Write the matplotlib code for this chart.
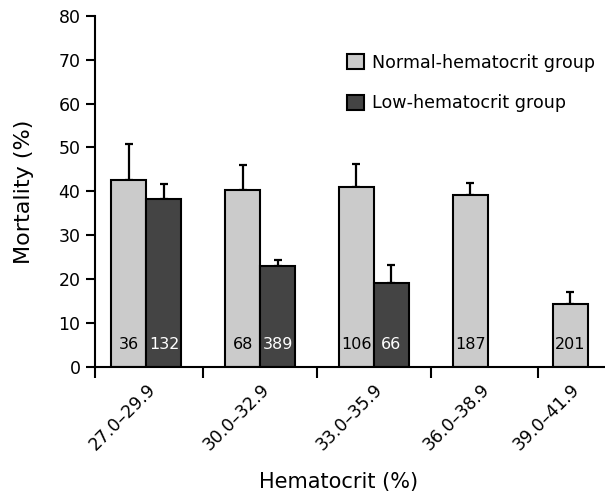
import numpy as np
import matplotlib
matplotlib.use("Agg")
import matplotlib.pyplot as plt
from matplotlib.patches import Patch

plt.rcParams["font.family"] = ["DejaVu Sans"]

# --- data ---
groups = ["27.0\u201329.9", "30.0\u201332.9", "33.0\u201335.9", "36.0\u201338.9", "39.0\u201341.9"]
normal_mort = [42.7, 40.4, 41.1, 39.1, 14.3]
normal_err = [8.1, 5.7, 5.1, 2.7, 2.8]
normal_n = [36, 68, 106, 187, 201]
low_mort = [38.3, 23.0, 19.0]
low_err = [3.4, 1.4, 4.2]
low_n = [132, 389, 66]

LIGHT = "#cbcbcb"
DARK = "#444444"
W = 1.0

fig = plt.figure(figsize=(6.05, 4.97), dpi=100)
ax = fig.add_axes([0.157, 0.262, 0.843, 0.706])

# group layout (last group sits a bit closer, as in the original)
left = np.array([0, 1, 2, 3, 3.88]) * 3.25 + 0.47
xn = left + W / 2
xl = left[:len(low_mort)] + W * 1.5

bar_kw = dict(width=W, edgecolor="black", linewidth=1.5, zorder=2)
ax.bar(xn, normal_mort, color=LIGHT, **bar_kw)
ax.bar(xl, low_mort, color=DARK, **bar_kw)

err_kw = dict(fmt="none", ecolor="black", elinewidth=1.6, capsize=2.6, capthick=1.6, zorder=1)
ax.errorbar(xn, normal_mort, yerr=[np.zeros(len(normal_err)), normal_err], **err_kw)
ax.errorbar(xl, low_mort, yerr=[np.zeros(len(low_err)), low_err], **err_kw)

for x, n in zip(xn, normal_n):
    ax.text(x, 5.0, str(n), ha="center", va="center", fontsize=11.5, color="black", zorder=3)
for x, n in zip(xl, low_n):
    ax.text(x, 5.0, str(n), ha="center", va="center", fontsize=11.5, color="white", zorder=3)

# axes
ax.set_ylim(0, 80)
ax.set_xlim(0, 14.57)
ax.set_yticks(range(0, 81, 10))
for s in ["top", "right"]:
    ax.spines[s].set_visible(False)
for s in ["left", "bottom"]:
    ax.spines[s].set_linewidth(1.5)

# boundary ticks between groups, labels at group centres
bounds = [0] + [(left[i] + 2 * W + left[i + 1]) / 2 for i in range(len(left) - 1)]
ax.set_xticks(bounds)
ax.set_xticklabels([])
ax.tick_params(axis="x", which="major", length=8, width=1.5, direction="out")
lab_pos = left + np.array([1.0, 1.0, 1.0, 0.8, 0.5])
ax.set_xticks(lab_pos, minor=True)
ax.set_xticklabels(groups, minor=True, rotation=45, ha="right",
                   rotation_mode="anchor", fontsize=12.5)
ax.tick_params(axis="x", which="minor", length=0, pad=10)
ax.tick_params(axis="y", length=6.5, width=1.5, labelsize=12.5, pad=4)

ax.set_ylabel("Mortality (%)", fontsize=16)
ax.yaxis.set_label_coords(-0.12, 0.5)
ax.set_xlabel("Hematocrit (%)", fontsize=15)
ax.xaxis.set_label_coords(0.477, -0.30)

handles = [Patch(facecolor=LIGHT, edgecolor="black", linewidth=1.5),
           Patch(facecolor=DARK, edgecolor="black", linewidth=1.5)]
fig.legend(handles, ["Normal-hematocrit group", "Low-hematocrit group"],
           loc="upper left", bbox_to_anchor=(347 / 605, 1 - 53.5 / 497),
           frameon=False, fontsize=12.6, handlelength=0.95, handleheight=0.95,
           handletextpad=0.45, labelspacing=1.3, borderpad=0, borderaxespad=0)

fig.savefig("out.png", dpi=100)
